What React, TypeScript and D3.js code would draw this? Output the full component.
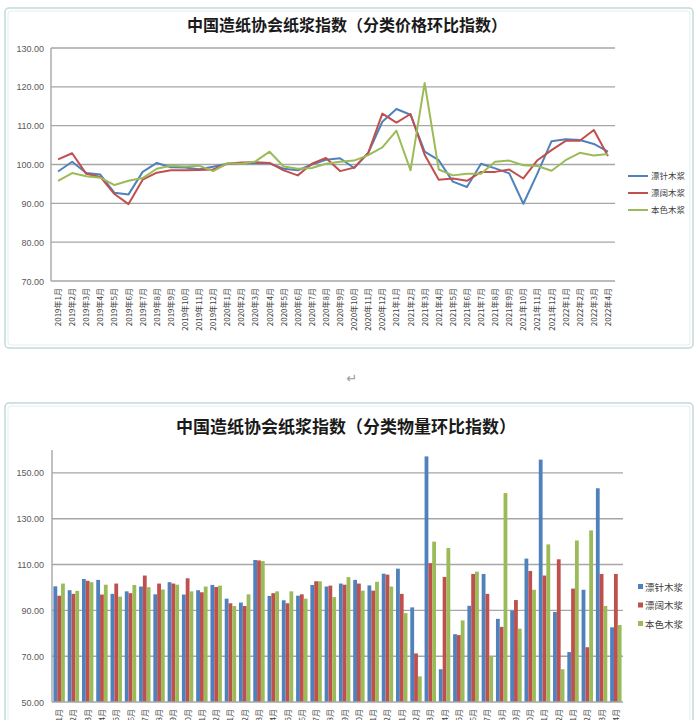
import * as d3 from "d3";

// categories: 2019年1月 … 2022年4月
const months: string[] = [];
for (let y = 2019; y <= 2022; y++) {
  for (let m = 1; m <= 12; m++) {
    if (y === 2022 && m > 4) break;
    months.push(`${y}年${m}月`);
  }
}

const seriesNames = ["漂针木浆", "漂阔木浆", "本色木浆"];
const seriesColors = ["#4F81BD", "#C0504D", "#9BBB59"];

// 分类价格环比指数
const priceNeedle = [98.2, 100.7, 97.8, 97.4, 92.7, 92.3, 98.1, 100.4, 99.3, 99.2, 98.8, 99.4, 100.2, 100.3, 100.3, 100.3, 98.9, 98.5, 100.0, 101.2, 101.6, 99.1, 103.0, 111.0, 114.3, 112.8, 103.3, 101.1, 95.6, 94.2, 100.2, 99.0, 97.7, 89.9, 97.7, 106.0, 106.5, 106.3, 105.3, 103.3];
const priceHardwood = [101.3, 102.9, 97.6, 96.8, 92.4, 89.8, 96.1, 97.9, 98.5, 98.5, 98.6, 98.7, 100.2, 100.5, 100.6, 100.4, 98.5, 97.2, 100.2, 101.7, 98.3, 99.2, 103.0, 113.1, 110.8, 113.0, 102.5, 96.1, 96.4, 95.8, 98.1, 98.1, 98.7, 96.4, 101.1, 103.7, 106.1, 106.1, 108.9, 102.2];
const priceUnbleached = [95.8, 97.8, 97.0, 96.6, 94.7, 95.8, 96.5, 98.9, 99.7, 99.5, 99.7, 98.3, 100.3, 100.2, 100.8, 103.3, 99.5, 98.9, 99.1, 100.2, 100.7, 101.0, 102.4, 104.4, 108.7, 98.5, 121.0, 98.7, 97.2, 97.6, 97.6, 100.7, 101.0, 99.8, 99.6, 98.4, 101.1, 103.0, 102.3, 102.7];

// 分类物量环比指数
const volNeedle = [100.5, 98.8, 103.7, 103.3, 97.2, 98.3, 100.4, 97.0, 102.3, 96.9, 98.8, 101.1, 95.1, 93.4, 112.0, 96.3, 94.4, 96.4, 101.1, 100.4, 101.7, 103.3, 100.9, 106.0, 108.2, 91.3, 157.2, 64.3, 79.6, 92.0, 105.9, 86.3, 89.9, 112.6, 155.8, 89.3, 71.8, 99.0, 143.3, 82.6];
const volHardwood = [96.4, 97.2, 102.9, 96.9, 101.7, 97.5, 105.2, 101.7, 101.7, 104.0, 97.9, 100.2, 93.1, 91.9, 111.8, 97.5, 93.1, 97.0, 102.7, 100.8, 101.2, 101.7, 98.6, 105.6, 97.2, 71.2, 110.6, 104.6, 79.2, 105.9, 97.2, 82.8, 94.5, 107.2, 105.2, 112.3, 99.5, 73.9, 105.9, 105.9];
const volUnbleached = [101.7, 98.5, 102.3, 101.2, 96.0, 101.1, 100.1, 99.1, 101.2, 98.3, 100.4, 100.8, 91.9, 97.0, 111.5, 98.3, 98.3, 95.1, 102.7, 95.8, 104.5, 98.6, 102.5, 100.4, 88.8, 61.2, 120.0, 117.2, 85.6, 106.9, 70.0, 141.2, 82.0, 99.0, 118.8, 64.3, 120.5, 124.9, 91.9, 83.6];

const priceTicks = [70, 80, 90, 100, 110, 120, 130];
const volTicks = [50, 70, 90, 110, 130, 150];

const FONT = "'Noto Sans CJK SC', 'Liberation Sans', sans-serif";
const GRID = "#a6a6a6";
const FRAME = "#c3d7d8";

function Frame({ x, y, w, h }: { x: number; y: number; w: number; h: number }) {
  return (
    <g>
      <rect x={x} y={y} width={w} height={h} rx={4} fill="#fff" stroke={FRAME} strokeWidth={1.5} />
      <rect x={x + 3} y={y + 3} width={w - 6} height={h - 6} rx={3} fill="none" stroke="#e3eeee" strokeWidth={1} />
    </g>
  );
}

function PriceChart() {
  const left = 51, right = 615, top = 48, bottom = 281;
  const x = d3.scalePoint<string>().domain(months).range([left, right]).padding(0.5);
  const y = d3.scaleLinear().domain([70, 130]).range([bottom, top]);
  const series = [priceNeedle, priceHardwood, priceUnbleached];
  const line = d3
    .line<number>()
    .x((_, i) => x(months[i]) ?? 0)
    .y((d) => y(d));

  return (
    <g>
      <Frame x={5} y={8} w={688} h={340} />
      <text x={347} y={31} textAnchor="middle" fontSize={16} fontWeight="bold" fill="#1a1a1a" fontFamily={FONT}>
        中国造纸协会纸浆指数（分类价格环比指数）
      </text>
      {priceTicks.map((t) => (
        <g key={t}>
          {t > 70 && <line x1={left} x2={right} y1={y(t)} y2={y(t)} stroke={GRID} strokeWidth={1.4} />}
          <text x={44} y={y(t) + 3.5} textAnchor="end" fontSize={9} fill="#595959" fontFamily="'Liberation Sans', sans-serif">
            {t.toFixed(2)}
          </text>
        </g>
      ))}
      <line x1={left} x2={right} y1={bottom} y2={bottom} stroke={GRID} strokeWidth={1.4} />
      <line x1={left} x2={left} y1={top} y2={bottom} stroke={GRID} strokeWidth={1.4} />
      {months.map((m) => (
        <text
          key={m}
          transform={`translate(${(x(m) ?? 0) + 3},${bottom + 7}) rotate(-90)`}
          textAnchor="end"
          fontSize={8}
          fill="#404040"
          fontFamily={FONT}
        >
          {m}
        </text>
      ))}
      {series.map((s, i) => (
        <path key={i} d={line(s) ?? ""} fill="none" stroke={seriesColors[i]} strokeWidth={2} strokeLinejoin="round" />
      ))}
      {seriesNames.map((n, i) => (
        <g key={n} transform={`translate(628,${176 + i * 17})`}>
          <line x1={0} x2={20} y1={0} y2={0} stroke={seriesColors[i]} strokeWidth={2} />
          <text x={23} y={3} fontSize={8.5} fill="#404040" fontFamily={FONT}>
            {n}
          </text>
        </g>
      ))}
    </g>
  );
}

function VolumeChart() {
  const left = 52, right = 623, top = 450, bottom = 702;
  const x0 = d3.scaleBand<string>().domain(months).range([left, right]).paddingInner(0.2).paddingOuter(0.1);
  const x1 = d3.scaleBand<number>().domain([0, 1, 2]).range([0, x0.bandwidth()]);
  const y = d3.scaleLinear().domain([50, 160]).range([bottom, top]);
  const series = [volNeedle, volHardwood, volUnbleached];

  return (
    <g>
      <Frame x={5} y={403} w={688} h={340} />
      <text x={346} y={433} textAnchor="middle" fontSize={17} fontWeight="bold" fill="#1a1a1a" fontFamily={FONT}>
        中国造纸协会纸浆指数（分类物量环比指数）
      </text>
      {volTicks.map((t) => (
        <g key={t}>
          {t > 50 && <line x1={left} x2={right} y1={y(t)} y2={y(t)} stroke={GRID} strokeWidth={1.4} />}
          <text x={44} y={y(t) + 3.5} textAnchor="end" fontSize={9} fill="#595959" fontFamily="'Liberation Sans', sans-serif">
            {t.toFixed(2)}
          </text>
        </g>
      ))}
      {months.map((m, mi) => (
        <g key={m} transform={`translate(${x0(m) ?? 0},0)`}>
          {series.map((s, i) => (
            <rect
              key={i}
              x={x1(i) ?? 0}
              y={y(s[mi])}
              width={x1.bandwidth()}
              height={bottom - y(s[mi])}
              fill={seriesColors[i]}
            />
          ))}
        </g>
      ))}
      <line x1={left} x2={right} y1={bottom} y2={bottom} stroke={GRID} strokeWidth={1.4} />
      <line x1={left} x2={left} y1={top} y2={bottom} stroke={GRID} strokeWidth={1.4} />
      {months.map((m) => (
        <text
          key={m}
          transform={`translate(${(x0(m) ?? 0) + x0.bandwidth() / 2 + 3},${bottom + 7}) rotate(-90)`}
          textAnchor="end"
          fontSize={8}
          fill="#404040"
          fontFamily={FONT}
        >
          {m}
        </text>
      ))}
      {seriesNames.map((n, i) => (
        <g key={n} transform={`translate(638,${587 + i * 18.5})`}>
          <rect x={0} y={-3} width={5} height={5} fill={seriesColors[i]} />
          <text x={7} y={3.5} fontSize={9.5} fill="#404040" fontFamily={FONT}>
            {n}
          </text>
        </g>
      ))}
    </g>
  );
}

export default function App() {
  return (
    <svg
      width={700}
      height={720}
      viewBox="0 0 700 720"
      style={{ position: "absolute", left: 0, top: 0, background: "#fff" }}
    >
      <rect width={700} height={720} fill="#fff" />
      <PriceChart />
      <text x={352} y={383} textAnchor="middle" fontSize={13} fill="#9a9a9a" fontFamily="'DejaVu Sans', sans-serif">
        ↵
      </text>
      <VolumeChart />
    </svg>
  );
}
